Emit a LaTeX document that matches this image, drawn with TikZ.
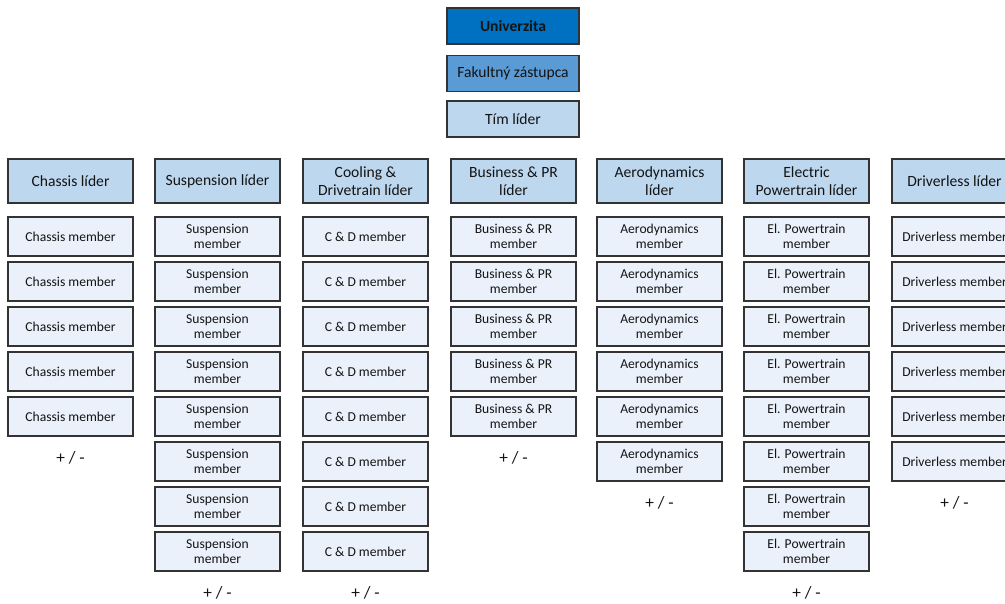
\documentclass[tikz,border=0pt]{standalone}
\usepackage{fontspec}
\setmainfont{Carlito}
\definecolor{uniblue}{HTML}{0070C0}
\definecolor{facblue}{HTML}{5B9BD5}
\definecolor{leadblue}{HTML}{BDD7EE}
\definecolor{memblue}{HTML}{EAF1FA}
\definecolor{edge}{HTML}{333333}
\begin{document}
\begin{tikzpicture}[x=0.75pt,y=-0.75pt,
  box/.style={draw=edge, line width=0.8pt, align=center, inner sep=0pt, text=black!92},
  bigfont/.style={font=\fontsize{11.7}{13.5}\selectfont},
  topbox/.style={box, bigfont, minimum width=99pt, minimum height=27pt},
  lead/.style={box, bigfont, fill=leadblue, minimum width=93.75pt, minimum height=33pt},
  member/.style={box, fill=memblue, minimum width=93.75pt, minimum height=29.25pt,
    font=\fontsize{10.2}{11.7}\selectfont},
  more/.style={font=\fontsize{13}{15}\selectfont, text=black!92}]
\useasboundingbox (0,0) rectangle (1005,603);

% management chain at the top
\node[topbox, fill=uniblue, font=\fontsize{11.7}{13.5}\selectfont\bfseries] (uni) at (513,26) {Univerzita};
\node[topbox, fill=facblue] (fac) at (513,73.5) {Fakultný zástupca};
\node[topbox, fill=leadblue] (team) at (513,119) {Tím líder};

% one column per sub-team: leader, members, and the open slot marker
\foreach \id/\x/\n/\lead/\mem in {
  chassis/70.5/5/{Chassis líder}/{Chassis member},
  susp/217.5/8/{Suspension líder}/{Suspension\\member},
  cd/365.5/8/{Cooling \&\\Drivetrain líder}/{C \& D member},
  bpr/513.5/5/{Business \& PR\\líder}/{Business \& PR\\member},
  aero/659.5/6/{Aerodynamics\\líder}/{Aerodynamics\\member},
  ept/806.5/8/{Electric\\Powertrain líder}/{El. Powertrain\\member},
  dl/954.5/6/{Driverless líder}/{Driverless member}}
{
  \node[lead] (\id-lead) at (\x,181) {\lead};
  \foreach \k in {1,...,\n}
    \node[member] (\id-\k) at (\x,{236.5+45*(\k-1)}) {\mem};
  \node[more] (\id-more) at (\x,{236.5+45*(\n-1)+41.5}) {+ / -};
}
\end{tikzpicture}
\end{document}
